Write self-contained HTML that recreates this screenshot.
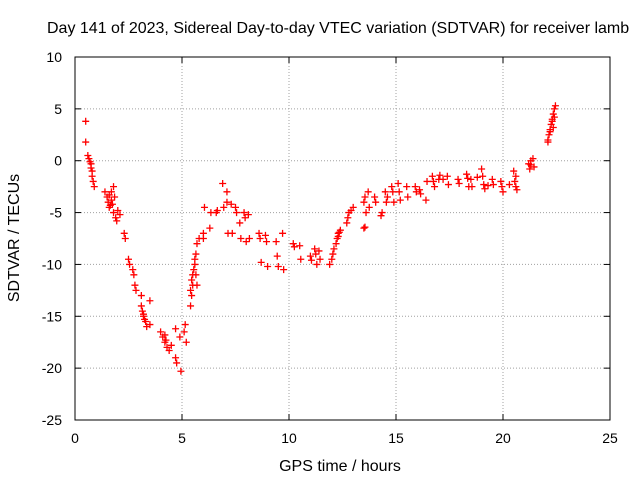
<!DOCTYPE html>
<html><head><meta charset="utf-8"><style>body{margin:0;background:#fff}svg{display:block}text{font-family:"Liberation Sans",sans-serif;font-size:14px;fill:#000}.big{font-size:16px}</style></head>
<body>
<svg id="chart" width="640" height="480" viewBox="0 0 640 480">
<text class="big" x="47" y="33">Day 141 of 2023, Sidereal Day-to-day VTEC variation (SDTVAR) for receiver lamb</text>
<text class="big" x="340" y="471" text-anchor="middle">GPS time / hours</text>
<text class="big" transform="translate(19,238) rotate(-90)" text-anchor="middle">SDTVAR / TECUs</text>
<g id="grid"></g><g id="axes"></g><g id="pts"></g>
</svg>
<script>
const xTicks=[0,5,10,15,20,25];
const yTicks=[10,5,0,-5,-10,-15,-20,-25];
const xs=[0.5,0.5,0.6,0.65,0.7,0.75,0.8,0.8,0.85,0.9,
1.4,1.5,1.55,1.6,1.7,1.75,1.8,1.9,1.7,1.8,2.0,2.1,
2.3,2.35,2.5,2.55,2.7,2.75,2.8,2.85,3.1,3.1,3.15,3.2,3.3,3.35,3.5,3.5,
4.0,4.1,4.2,4.3,4.4,4.5,4.7,4.7,4.75,4.9,4.95,5.1,5.15,5.2,
5.4,5.45,5.5,5.5,5.55,5.6,5.65,5.7,5.8,5.4,5.45,
6.0,6.0,6.05,6.3,6.35,6.6,6.65,6.9,6.95,7.1,7.1,7.15,7.3,7.35,7.5,7.55,7.7,7.75,7.9,7.95,8.0,8.1,8.15,
8.6,8.65,8.7,8.9,8.95,9.0,9.4,9.45,9.5,9.7,9.75,10.2,10.25,10.5,10.55,11.0,11.05,11.2,11.25,11.3,11.4,11.45,
11.9,12.0,12.05,12.1,12.2,12.25,12.3,12.4,
12.7,12.75,12.8,12.9,13.0,
13.5,13.55,13.5,13.55,13.6,13.7,13.75,14.0,14.05,14.3,14.35,14.5,14.55,14.6,14.8,14.85,14.9,15.1,15.15,15.2,15.5,15.55,15.9,15.95,16.1,16.15,16.4,16.45,16.7,16.75,16.8,17.0,17.05,17.4,17.45,17.9,17.95,18.3,18.35,18.4,18.5,18.55,
19.0,19.05,19.1,19.15,19.5,19.55,19.9,19.95,20.0,20.5,20.55,20.6,20.6,20.65,21.2,21.25,21.3,21.4,21.45,
22.1,22.15,22.2,22.25,22.3,22.35,22.4,22.45,22.1,22.2,22.4,
0.75,1.6,1.65,1.85,1.95,3.2,3.25,4.2,4.25,5.6,5.65,5.7,12.3,12.35,17.2,18.8,19.3,20.3,21.3,22.3,22.35];
const ys=[3.8,1.8,0.5,0.2,-0.1,-0.3,-1,-1.5,-2,-2.5,
-3,-3.5,-4,-4.5,-3.8,-4.2,-5,-5.5,-3,-2.5,-4.8,-5.2,
-7,-7.5,-9.5,-10,-10.5,-11,-12,-12.5,-13,-14,-14.5,-15,-15.5,-16,-13.5,-15.8,
-16.5,-17,-17.5,-18,-18.3,-17.8,-16.2,-19,-19.5,-17,-20.3,-16.5,-15.8,-17.5,
-14,-13,-12,-11,-10.5,-9.5,-9,-8,-7.5,-12.5,-11.5,
-7.5,-7,-4.5,-6.5,-5,-5,-4.8,-2.2,-4.5,-3,-4,-7,-4.2,-7,-4.5,-5,-6,-7.5,-5,-5.5,-7.8,-5.2,-7.5,
-7,-7.5,-9.8,-7.2,-7.8,-10.2,-7.8,-9.2,-10.2,-7,-10.5,-8,-8.3,-8.2,-9.5,-9.2,-9.6,-8.5,-9,-10,-8.7,-9.5,
-10,-9.5,-9,-8.5,-8,-7.5,-7,-6.7,
-6,-5.5,-5,-4.8,-4.5,
-6.5,-6.4,-4,-3.5,-5,-3,-4.5,-3.5,-4,-5.3,-5,-3,-4,-3.5,-2.5,-3,-4,-2.2,-3,-3.8,-2.5,-3.5,-2.5,-3,-2.8,-3.2,-3.8,-2,-1.5,-2,-2.5,-1.8,-1.4,-1.5,-2.3,-1.8,-2.2,-1.3,-1.7,-2.5,-1.8,-2.5,
-0.8,-1.5,-2.3,-2.7,-1.8,-2.3,-2,-2.5,-3,-1,-2,-2.5,-1.5,-2.8,-0.3,-0.8,0,0.2,-0.6,
2,2.5,3,3.5,4,4.5,5,5.3,1.8,2.8,4.2,
-0.7,-3.3,-4.3,-3.5,-5.8,-14.8,-15.3,-16.8,-17.3,-10,-11,-12,-7.3,-6.9,-1.8,-1.6,-2.4,-2.3,-0.4,3.8,3.2];
const L=75,R=610,T=57,B=420;
const sx=v=>L+(v-0)/25*(R-L);
const sy=v=>T+(10-v)/35*(B-T);
const NS="http://www.w3.org/2000/svg";
const grid=document.getElementById('grid'),axes=document.getElementById('axes'),pts=document.getElementById('pts');
function mk(tag,attrs,parent){const e=document.createElementNS(NS,tag);for(const k in attrs)e.setAttribute(k,attrs[k]);parent.appendChild(e);return e;}
xTicks.forEach(t=>{const x=sx(t);
 if(t>0&&t<25){const g=mk('line',{x1:x,x2:x,y1:T,y2:B,stroke:'#a0a0a0','stroke-dasharray':'1,2'},grid);
 
 }
 mk('line',{x1:x,x2:x,y1:B,y2:B-6,stroke:'#000'},axes);mk('line',{x1:x,x2:x,y1:T,y2:T+6,stroke:'#000'},axes);
 const tx=mk('text',{x:x,y:443,'text-anchor':'middle'},axes);tx.textContent=t;
 
 });
yTicks.forEach(t=>{const y=sy(t);
 if(t<10&&t>-25){const g=mk('line',{x1:L,x2:R,y1:y,y2:y,stroke:'#a0a0a0','stroke-dasharray':'1,2'},grid);
 
 }
 mk('line',{x1:L,x2:L+6,y1:y,y2:y,stroke:'#000'},axes);mk('line',{x1:R,x2:R-6,y1:y,y2:y,stroke:'#000'},axes);
 const tx=mk('text',{x:62,y:y+5,'text-anchor':'end'},axes);tx.textContent=t;
 
 });
const fr=mk('rect',{x:L,y:T,width:R-L,height:B-T,fill:'none',stroke:'#000'},axes);


xs.forEach((v,i)=>{const x=sx(v),y=sy(ys[i]);
 const p=mk('path',{d:`M${x-3.5},${y}H${x+3.5}M${x},${y-3.5}V${y+3.5}`,stroke:'#ff0000','stroke-width':1.3},pts);
 
 });
</script>
</body></html>
